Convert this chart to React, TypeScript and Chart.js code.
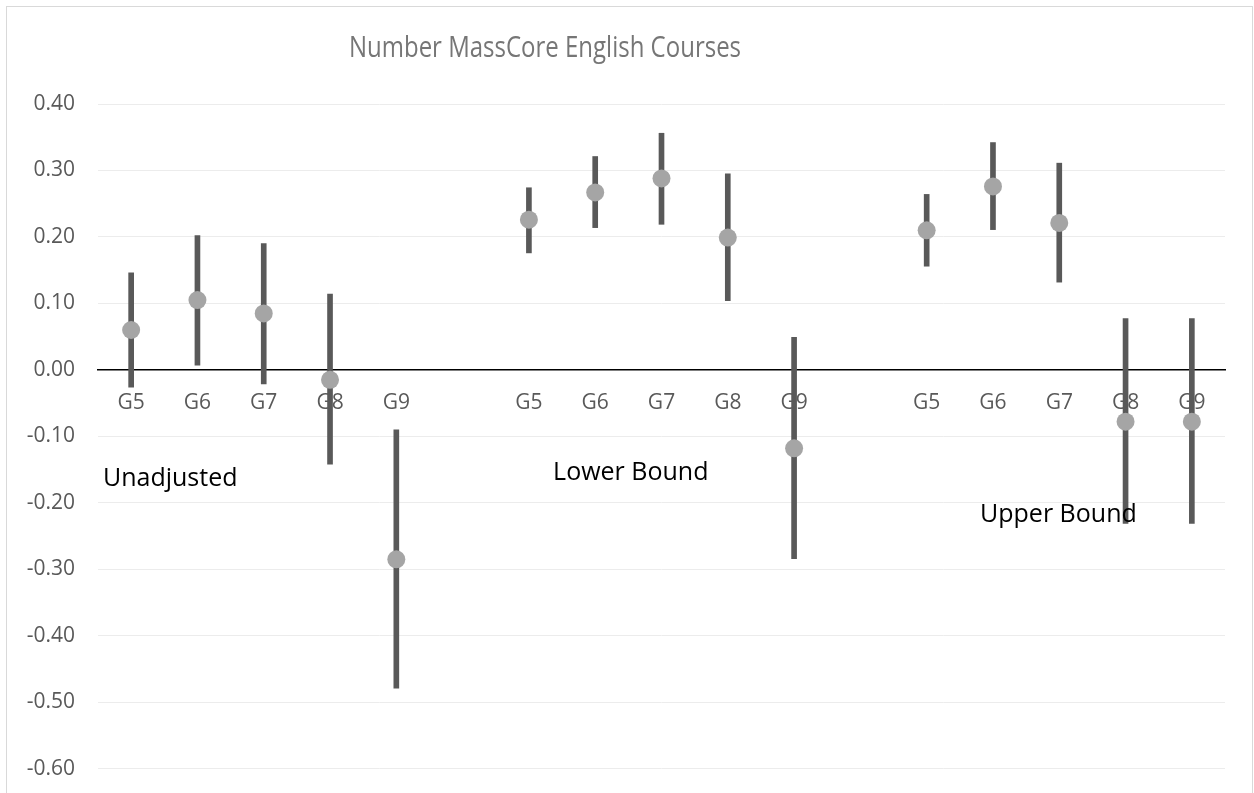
import React, { useEffect, useRef } from "react";
import { Chart, registerables } from "chart.js";

Chart.register(...registerables);

const TITLE = "Number MassCore English Courses";
const CATEGORIES = ["G5", "G6", "G7", "G8", "G9", "", "G5", "G6", "G7", "G8", "G9", "", "G5", "G6", "G7", "G8", "G9"];
const ESTIMATES = [0.06, 0.105, 0.085, -0.015, -0.285, null, 0.226, 0.267, 0.288, 0.199, -0.118, null, 0.21, 0.276, 0.221, -0.078, -0.078];
const CI_LOW = [-0.026, 0.007, -0.021, -0.142, -0.479, null, 0.176, 0.214, 0.219, 0.104, -0.284, null, 0.156, 0.211, 0.132, -0.231, -0.231];
const CI_HIGH = [0.146, 0.202, 0.19, 0.114, -0.09, null, 0.274, 0.321, 0.356, 0.295, 0.049, null, 0.264, 0.342, 0.311, 0.077, 0.077];
const Y_TICKS = [-0.6, -0.5, -0.4, -0.3, -0.2, -0.1, 0, 0.1, 0.2, 0.3, 0.4];
const Y_MIN = -0.623;
const Y_MAX = 0.4;
const GROUP_LABELS = ["Unadjusted", "Lower Bound", "Upper Bound"];
// anchor of each group label: left edge in category-index units, baseline in value units
const GROUP_LABEL_X = [-0.425, 6.365, 12.805];
const GROUP_LABEL_Y = [-0.174, -0.165, -0.229];

const FONT = "'Open Sans', 'Noto Sans', sans-serif";

const decor = {
  id: "decor",
  beforeDraw(chart: any) {
    const ctx = chart.ctx;
    ctx.save();
    ctx.fillStyle = "#ffffff";
    ctx.fillRect(0, 0, chart.width, chart.height);
    ctx.strokeStyle = "#d9d9d9";
    ctx.lineWidth = 1;
    ctx.strokeRect(6.5, 6.5, 1246, chart.height + 20);
    ctx.restore();
  },
  afterDatasetsDraw(chart: any) {
    const ctx = chart.ctx;
    const xs = chart.scales.x;
    const ys = chart.scales.y;
    ctx.save();
    ctx.fillStyle = "#767676";
    ctx.font = `30px ${FONT}`;
    ctx.textAlign = "center";
    ctx.textBaseline = "alphabetic";
    ctx.translate(545, 57);
    ctx.scale(0.8, 1);
    ctx.fillText(TITLE, 0, 0);
    ctx.restore();

    ctx.save();
    ctx.fillStyle = "#000000";
    ctx.font = `25px ${FONT}`;
    ctx.textAlign = "left";
    ctx.textBaseline = "alphabetic";
    GROUP_LABELS.forEach((t, i) => {
      ctx.fillText(t, xs.getPixelForValue(GROUP_LABEL_X[i]), ys.getPixelForValue(GROUP_LABEL_Y[i]));
    });
    ctx.restore();
  },
};

export default function App() {
  const ref = useRef<HTMLCanvasElement>(null);
  useEffect(() => {
    document.body.style.margin = "0";
    const canvas = ref.current!;
    const chart = new Chart(canvas, {
      type: "bar",
      data: {
        labels: CATEGORIES,
        datasets: [
          {
            type: "line",
            label: "Estimate",
            data: ESTIMATES,
            showLine: false,
            pointRadius: 9,
            pointHoverRadius: 9,
            pointBackgroundColor: "#a5a5a5",
            pointBorderWidth: 0,
            borderColor: "#a5a5a5",
            order: 1,
          } as any,
          {
            type: "bar",
            label: "CI",
            data: CI_LOW.map((lo, i) => (lo === null ? null : [lo, CI_HIGH[i]])) as any,
            backgroundColor: "#595959",
            borderWidth: 0,
            barThickness: 5,
            order: 2,
          },
        ],
      },
      options: {
        responsive: false,
        devicePixelRatio: 1,
        animation: false,
        layout: { padding: { top: 104, right: 29, bottom: 0, left: 0 } },
        plugins: {
          legend: { display: false },
          tooltip: { enabled: false },
          title: { display: false },
        },
        scales: {
          x: {
            type: "category",
            position: { y: 0 } as any,
            offset: true,
            grid: { display: false, drawTicks: false },
            border: { display: true, color: "#000000", width: 1.5 },
            ticks: {
              color: "#595959",
              font: { family: FONT, size: 21 },
              padding: 21,
              maxRotation: 0,
              autoSkip: false,
            },
            afterFit: (s: any) => {
              s.paddingLeft = 0;
              s.paddingRight = 0;
            },
          },
          y: {
            type: "linear",
            min: Y_MIN,
            max: Y_MAX,
            grid: {
              color: (c: any) => (c.tick && c.tick.value === 0 ? "#000000" : "#ececec"),
              lineWidth: 1,
              drawTicks: false,
            },
            border: { display: false },
            ticks: {
              color: "#595959",
              font: { family: FONT, size: 21 },
              padding: 23,
              callback: (v: any) => Number(v).toFixed(2),
            },
            afterBuildTicks: (s: any) => {
              s.min = Y_MIN;
              s.max = Y_MAX;
              s.ticks = Y_TICKS.map((v) => ({ value: v }));
            },
            afterFit: (s: any) => {
              s.width = 98;
              s.paddingTop = 0;
              s.paddingBottom = 0;
            },
          },
        },
      },
      plugins: [decor],
    });
    return () => chart.destroy();
  }, []);
  return (
    <div style={{ position: "fixed", left: 0, top: 0, width: 1254, height: 793, background: "#fff" }}>
      <canvas ref={ref} width={1254} height={793} style={{ display: "block" }} />
    </div>
  );
}
